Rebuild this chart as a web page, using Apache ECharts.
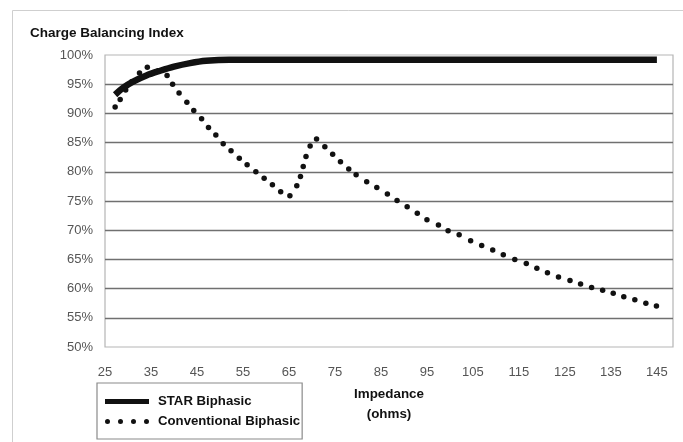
<!DOCTYPE html>
<html>
<head>
<meta charset="utf-8">
<script src="https://cdn.jsdelivr.net/npm/echarts@6/dist/echarts.min.js"></script>
<style>
html,body{margin:0;padding:0;background:#fff;}
#chart{width:683px;height:442px;}
</style>
</head>
<body>
<div id="chart"></div>
<script>
// Data
const titleText = 'Charge Balancing Index';
const xAxisName = 'Impedance\n(ohms)';
const seriesNames = ['STAR Biphasic', 'Conventional Biphasic'];

const starImpedance = [27.2, 29, 31, 34, 37, 40, 43.5, 47, 52, 145];
const starIndex     = [93.2, 94.4, 95.4, 96.5, 97.3, 98.0, 98.6, 99.0, 99.2, 99.2];

const convImpedance = [27.2, 28.3, 29.5, 30.8, 32.5, 34.2, 36.6, 38.5, 39.7, 41.1,
  42.8, 44.3, 46.0, 47.5, 49.1, 50.7, 52.4, 54.2, 55.9, 57.8,
  59.6, 61.4, 63.2, 65.2, 66.7, 67.5, 68.1, 68.7, 69.6, 71.0,
  72.8, 74.5, 76.2, 78.0, 79.6, 81.9, 84.1, 86.4, 88.5, 90.7,
  92.9, 95.0, 97.5, 99.6, 102.0, 104.5, 106.9, 109.3, 111.6, 114.1,
  116.6, 118.9, 121.2, 123.6, 126.1, 128.4, 130.8, 133.2, 135.5, 137.8,
  140.2, 142.6, 144.9];
const convIndex = [91.1, 92.4, 94.0, 95.4, 96.9, 97.9, 97.3, 96.5, 95.0, 93.5,
  91.9, 90.5, 89.1, 87.6, 86.3, 84.8, 83.6, 82.3, 81.2, 80.0,
  78.9, 77.8, 76.6, 75.9, 77.6, 79.2, 80.9, 82.6, 84.4, 85.6,
  84.3, 83.0, 81.7, 80.5, 79.5, 78.3, 77.3, 76.2, 75.1, 74.0,
  72.9, 71.8, 70.9, 69.9, 69.2, 68.2, 67.4, 66.6, 65.8, 65.0,
  64.3, 63.5, 62.7, 62.0, 61.4, 60.8, 60.2, 59.7, 59.2, 58.6,
  58.1, 57.5, 57.0];

const xTickLabels = [25, 35, 45, 55, 65, 75, 85, 95, 105, 115, 125, 135, 145];
const yMin = 50, yMax = 100, yStep = 5;
const xMin = 25, xMax = 148.5, xStep = 5;

const FONT = "'Liberation Sans', Arial, sans-serif";

const chart = echarts.init(document.getElementById('chart'), null, {renderer: 'canvas'});

const dotsIcon = 'path://M0,2.5A2.5,2.5 0 1,0 5,2.5A2.5,2.5 0 1,0 0,2.5Z' +
  'M13,2.5A2.5,2.5 0 1,0 18,2.5A2.5,2.5 0 1,0 13,2.5Z' +
  'M26,2.5A2.5,2.5 0 1,0 31,2.5A2.5,2.5 0 1,0 26,2.5Z' +
  'M39,2.5A2.5,2.5 0 1,0 44,2.5A2.5,2.5 0 1,0 39,2.5Z';

chart.setOption({
  animation: false,
  backgroundColor: '#fff',
  textStyle: {fontFamily: FONT},
  graphic: [{
    type: 'rect', left: 10, top: 8, silent: true,
    shape: {width: 672, height: 440},
    style: {fill: 'none', stroke: '#cfcfcf', lineWidth: 1}
  }],
  title: {
    text: titleText,
    left: 25, top: 21,
    textStyle: {fontFamily: FONT, fontSize: 13.5, fontWeight: 'bold', color: '#111'}
  },
  legend: {
    orient: 'vertical',
    left: 97, top: 383,
    padding: [12, 2, 11, 8],
    itemGap: 7,
    itemWidth: 44, itemHeight: 5,
    borderColor: '#8a8a8a', borderWidth: 1.2,
    textStyle: {fontFamily: FONT, fontSize: 13.2, fontWeight: 'bold', color: '#111', padding: [0, 0, 0, 4]},
    data: [
      {name: seriesNames[0], icon: 'rect'},
      {name: seriesNames[1], icon: dotsIcon}
    ]
  },
  grid: {
    left: 105, top: 55, width: 568, height: 292,
    show: true, borderColor: '#b5b5b5', borderWidth: 1.2, containLabel: false
  },
  xAxis: {
    type: 'value',
    min: xMin, max: xMax, interval: xStep,
    name: xAxisName,
    nameLocation: 'middle',
    nameGap: 36,
    nameTextStyle: {fontFamily: FONT, fontSize: 13.4, fontWeight: 'bold', color: '#111', lineHeight: 20},
    axisLine: {show: false},
    axisTick: {show: false},
    splitLine: {show: false},
    axisLabel: {
      margin: 19,
      fontFamily: FONT, fontSize: 13, color: '#555',
      showMaxLabel: false,
      formatter: function (v) {
        return xTickLabels.indexOf(Math.round(v * 10) / 10) >= 0 ? String(v) : '';
      }
    }
  },
  yAxis: {
    type: 'value',
    min: yMin, max: yMax, interval: yStep,
    axisLine: {show: false},
    axisTick: {show: false},
    splitLine: {show: true, showMinLine: false, showMaxLine: false, lineStyle: {color: '#707070', width: 1.4}},
    axisLabel: {margin: 12, fontFamily: FONT, fontSize: 13, color: '#555', formatter: '{value}%'}
  },
  series: [
    {
      name: seriesNames[0],
      type: 'line',
      data: starImpedance.map((x, i) => [x, starIndex[i]]),
      showSymbol: false,
      smooth: 0.3,
      color: '#111',
      lineStyle: {color: '#111', width: 6.5},
      itemStyle: {color: '#111'},
      emphasis: {disabled: true},
      z: 3
    },
    {
      name: seriesNames[1],
      type: 'line',
      data: convImpedance.map((x, i) => [x, convIndex[i]]),
      showSymbol: true,
      showAllSymbol: true,
      symbol: 'circle',
      symbolSize: 5.5,
      color: '#111',
      lineStyle: {width: 0, opacity: 0},
      itemStyle: {color: '#111', borderWidth: 0},
      emphasis: {disabled: true},
      z: 2
    }
  ]
});
</script>
</body>
</html>
